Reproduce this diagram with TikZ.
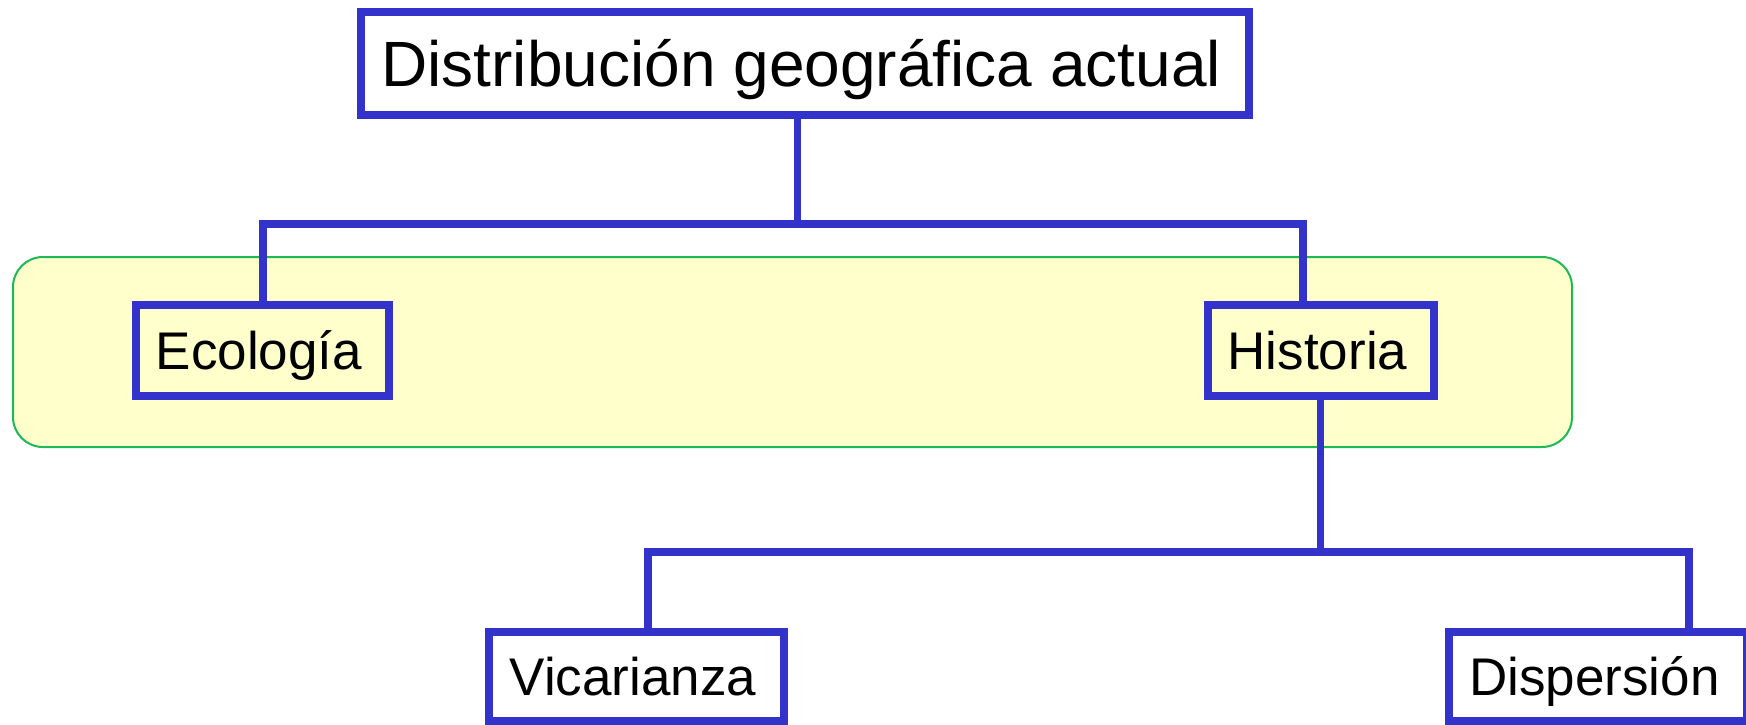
\documentclass[tikz,border=0pt]{standalone}
\usepackage{fontspec}
\setmainfont{Liberation Sans}
\definecolor{boxblue}{HTML}{3333CC}
\definecolor{paleyellow}{HTML}{FFFFCC}
\definecolor{framegreen}{HTML}{1DB954}
\newcommand{\nudge}{\hspace*{-7pt}}
\tikzset{
  conceptbox/.style={draw=boxblue, line width=8pt, rectangle, inner sep=0pt,
    text depth=0pt, font=\fontsize{53}{60}\selectfont, text height=38pt},
  topbox/.style={conceptbox, font=\fontsize{64}{72}\selectfont, text height=46pt},
  conn/.style={draw=boxblue, line width=8pt, line join=miter, line cap=butt},
  stem/.style={draw=boxblue, line width=7pt, line cap=butt},
  panel/.style={draw=framegreen, line width=2pt, fill=paleyellow, rounded corners=30pt}
}
\begin{document}
\begin{tikzpicture}[x=1pt,y=-1pt]
\useasboundingbox (0,0) rectangle (1746,725);
\fill[white] (0,0) rectangle (1746,725);
% panel
\path[panel] (13,257) rectangle (1572,447);
% boxes
\node[topbox, minimum width=887.5pt, minimum height=103pt] (top) at (804.75,63.5) {\nudge Distribución geográfica actual};
\node[conceptbox, minimum width=253pt, minimum height=91pt] (eco) at (262.5,350.5) {\nudge Ecología};
\node[conceptbox, minimum width=226pt, minimum height=91pt] (his) at (1321,350.5) {\nudge Historia};
\node[conceptbox, minimum width=295pt, minimum height=89pt] (vic) at (636.5,676.5) {\nudge Vicarianza};
\node[conceptbox, minimum width=298pt, minimum height=89pt] (dis) at (1598,676.5) {\nudge Dispersión};
% junctions
\coordinate (j1) at (797,224);
\coordinate (e1) at (263,224);
\coordinate (h1) at (1303,224);
\coordinate (j2) at (1320,552);
\coordinate (v1) at (648,552);
\coordinate (d1) at (1689,552);
% connectors
\draw[stem] (top.south -| j1) -- (j1);
\draw[conn] (eco.north -| e1) -- (e1) -- (h1) -- (his.north -| h1);
\draw[stem] (his.south -| j2) -- (j2);
\draw[conn] (vic.north -| v1) -- (v1) -- (d1) -- (dis.north -| d1);
\end{tikzpicture}
\end{document}
